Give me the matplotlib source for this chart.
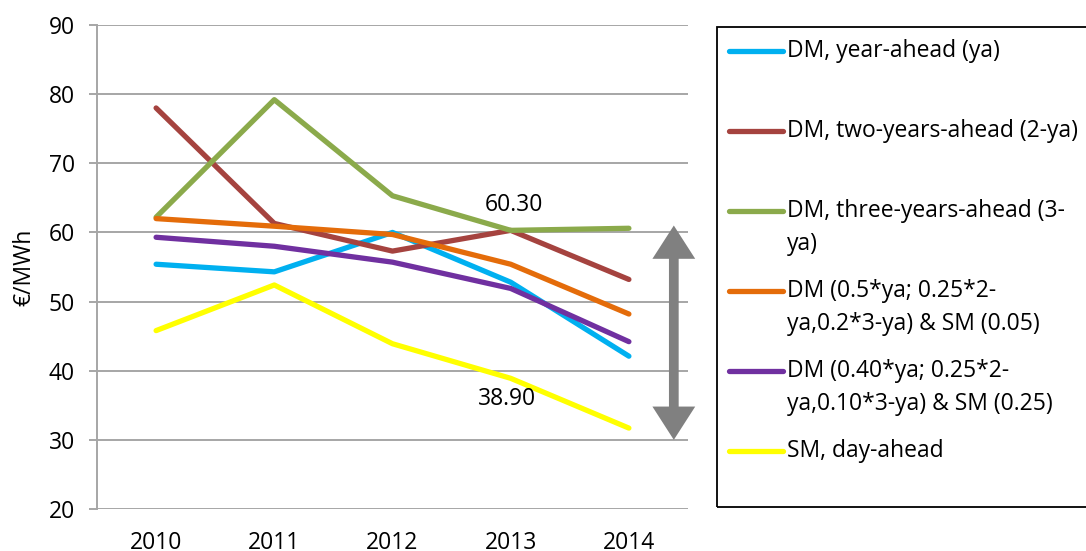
import matplotlib
matplotlib.use("Agg")
import matplotlib.pyplot as plt
from matplotlib.lines import Line2D
from matplotlib.patches import Rectangle

plt.rcParams["font.family"] = ["Open Sans", "DejaVu Sans"]

# %% data
years = ["2010", "2011", "2012", "2013", "2014"]
dm_ya = [55.4, 54.3, 60.0, 52.8, 42.1]
dm_2ya = [78.0, 61.3, 57.3, 60.3, 53.2]
dm_3ya = [62.2, 79.2, 65.3, 60.3, 60.6]
mix_05 = [62.0, 60.9, 59.7, 55.4, 48.2]
mix_040 = [59.3, 58.0, 55.7, 51.9, 44.2]
sm_da = [45.8, 52.4, 43.9, 38.9, 31.7]

labels = [
    "DM, year-ahead (ya)",
    "DM, two-years-ahead (2-ya)",
    "DM, three-years-ahead (3-\nya)",
    "DM (0.5*ya; 0.25*2-\nya,0.2*3-ya) & SM (0.05)",
    "DM (0.40*ya; 0.25*2-\nya,0.10*3-ya) & SM (0.25)",
    "SM, day-ahead",
]
colors = ["#00B0F0", "#A5433F", "#8BAA4B", "#E46C0A", "#7030A0", "#FFFF00"]
series = [dm_ya, dm_2ya, dm_3ya, mix_05, mix_040, sm_da]

FS = 16.5

# %% figure
W, H = 1086, 551
fig = plt.figure(figsize=(W / 100, H / 100), dpi=100)
ax = fig.add_axes([97 / W, 1 - 509 / H, (688 - 97) / W, (509 - 25) / H])

x = range(len(years))
for vals, c in zip(series, colors):
    ax.plot(x, vals, color=c, lw=3.8, solid_capstyle="round", zorder=3)

ax.set_xlim(-0.5, 4.5)
ax.set_ylim(20, 90)
ax.set_yticks(range(20, 91, 10))
ax.set_xticks(list(x))
ax.set_xticklabels(years)
ax.yaxis.grid(True, color="#A6A6A6", lw=1.4)
ax.set_axisbelow(True)
for s in ["top", "right", "bottom"]:
    ax.spines[s].set_visible(False)
ax.spines["left"].set_color("#A6A6A6")
ax.spines["left"].set_linewidth(1.4)
ax.tick_params(axis="y", length=6, width=1.4, color="#A6A6A6", pad=10, labelsize=FS)
ax.tick_params(axis="x", length=0, pad=16, labelsize=FS)
ax.set_ylabel("€/MWh", fontsize=FS, labelpad=9)

# value labels
ax.annotate("60.30", xy=(3, dm_3ya[3]), xytext=(2, 18), textcoords="offset points",
            ha="center", va="center", fontsize=FS)
ax.annotate("38.90", xy=(3, sm_da[3]), xytext=(-3, -15), textcoords="offset points",
            ha="center", va="center", fontsize=FS)

# double-headed gray arrow (spread in 2014)
ax.annotate("", xy=(4.38, 61.0), xytext=(4.38, 30.0),
            arrowprops=dict(arrowstyle="<|-|>,head_width=0.9,head_length=1.4",
                            color="#808080", lw=7, mutation_scale=10,
                            shrinkA=0, shrinkB=0, joinstyle="miter", capstyle="butt"),
            annotation_clip=False)

# %% legend drawn by hand (box runs off the right edge)
fig.add_artist(Rectangle((717 / W, 1 - 507 / H), (1100 - 717) / W, (507 - 27) / H,
                         transform=fig.transFigure, fill=False, edgecolor="black",
                         lw=1.3, clip_on=False))
for i, (lab, c) in enumerate(zip(labels, colors)):
    yy = 51 + 80 * i
    fig.add_artist(Line2D([729 / W, 783 / W], [1 - yy / H, 1 - yy / H],
                          transform=fig.transFigure, color=c, lw=3.8,
                          solid_capstyle="round"))
    for k, line in enumerate(lab.split("\n")):
        fig.text(787 / W, 1 - (yy + 33 * k) / H, line, fontsize=FS,
                 ha="left", va="center")

fig.savefig("out.png", dpi=100)
